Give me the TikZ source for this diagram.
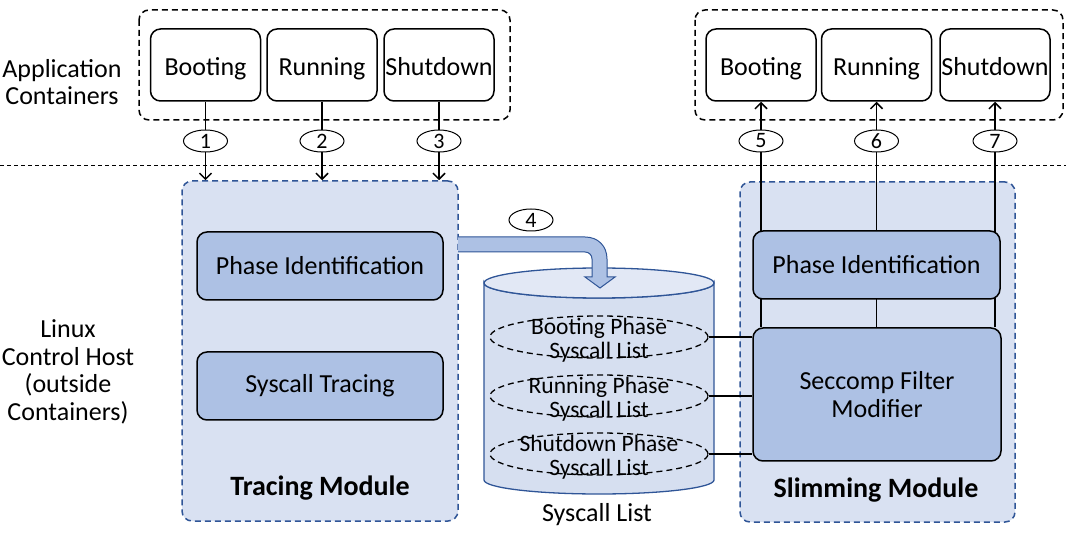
\documentclass[tikz,border=0pt]{standalone}
\usepackage{fontspec}
\setmainfont{Carlito}
\usetikzlibrary{arrows.meta,shapes.geometric}
\definecolor{modfill}{HTML}{D9E1F2}
\definecolor{modline}{HTML}{2F5597}
\definecolor{boxfill}{HTML}{ADC1E4}
\definecolor{cylfill}{HTML}{D6DFF0}
\definecolor{cyltop}{HTML}{E2E8F5}

\begin{document}
\begin{tikzpicture}[x=1pt, y=-1pt,
  appbox/.style={draw, rounded corners=10, line width=1.5, minimum width=110, minimum height=72, inner sep=1, text height=23, text depth=2, font=\fontsize{26}{31}\selectfont},
  module/.style={draw=modline, fill=modfill, dashed, dash pattern=on 6 off 4, rounded corners=10, line width=1.5},
  phasebox/.style={draw, fill=boxfill, rounded corners=10, line width=1.5, align=center, font=\fontsize{26}{28}\selectfont},
  numtag/.style={draw, ellipse, fill=white, line width=1, minimum width=44, minimum height=22, inner sep=0, font=\fontsize{22}{22}\selectfont},
  listring/.style={draw, ellipse, dashed, dash pattern=on 6 off 4, line width=1.3, minimum width=218, minimum height=42, inner sep=0},
  listtext/.style={align=center, yshift=-3, font=\fontsize{23.5}{23.5}\selectfont},
  flow/.style={line width=1.5, -{Straight Barb[length=6, width=12, line width=1.5]}},
  link/.style={line width=1.5},
  caption/.style={align=center, font=\fontsize{26}{27.5}\selectfont}]
  \useasboundingbox (0,0) rectangle (1066,534);

  % side labels
  \node[caption] (applabel) at (62,82) {Application\\Containers};
  \node[caption] (hostlabel) at (68,372) {Linux\\Control Host\\(outside\\Containers)};
  \draw[line width=0.8, dash pattern=on 4 off 3] (0,165) -- (1066,165);

  % application containers
  \draw[line width=1.5, dashed, dash pattern=on 6 off 4, rounded corners=10] (139,10) rectangle (510,120);
  \node[appbox] (bootL) at (205.5,65) {Booting};
  \node[appbox] (runL) at (322,65) {Running};
  \node[appbox] (shutL) at (439,65) {Shutdown};
  \draw[line width=1.5, dashed, dash pattern=on 6 off 4, rounded corners=10] (695,10) rectangle (1063,120);
  \node[appbox] (bootR) at (761,65) {Booting};
  \node[appbox] (runR) at (876.5,65) {Running};
  \node[appbox] (shutR) at (995,65) {Shutdown};

  % modules
  \node[module, minimum width=276, minimum height=340] (trace) at (320,351) {};
  \node[module, minimum width=275, minimum height=340] (slim) at (877.5,352) {};
  \node[font=\bfseries\fontsize{28}{28}\selectfont] (tracelabel) at (320,488) {Tracing Module};
  \node[font=\bfseries\fontsize{28}{28}\selectfont] (slimlabel) at (876,490) {Slimming Module};

  \node[phasebox, minimum width=246, minimum height=68] (phaseL) at (320,266) {Phase Identification};
  \node[phasebox, minimum width=246, minimum height=68] (tracing) at (320,386) {Syscall Tracing};
  \node[phasebox, minimum width=248, minimum height=133] (seccomp) at (877,394.5) {Seccomp Filter\\Modifier};

  % steps 1-3 and 5-7
  \foreach \ctr in {bootL, runL, shutL}
    \draw[flow] (\ctr.south) -- (\ctr.south |- trace.north);
  \foreach \ctr in {bootR, runR, shutR}
    \draw[flow] (\ctr.south |- seccomp.north) -- (\ctr.south);
  \node[phasebox, minimum width=247, minimum height=68] (phaseR) at (876.5,265) {Phase Identification};
  \node[numtag] (n1) at (205.5,141) {1};
  \node[numtag] (n2) at (322,141) {2};
  \node[numtag] (n3) at (439,141) {3};
  \node[numtag] (n5) at (761,141) {5};
  \node[numtag] (n6) at (876.5,141) {6};
  \node[numtag] (n7) at (995,141) {7};

  % syscall list store
  \filldraw[fill=cylfill, draw=modline, line width=1.3] (484,283) -- (484,480)
    arc[start angle=180, end angle=0, x radius=115, y radius=14] -- (714,283)
    arc[start angle=0, end angle=180, x radius=115, y radius=15] -- cycle;
  \filldraw[fill=cyltop, draw=modline, line width=1.3] (599,283) ellipse[x radius=115, y radius=15];
  \node[caption] (storelabel) at (597,515) {Syscall List};

  % step 4
  \filldraw[fill=boxfill, draw=modline, line width=1]
    (458,237) -- (585,237) .. controls (598,237) and (607,246) .. (607,259) -- (607,277)
    -- (615,277) -- (600,288) -- (585,277) -- (592,277) -- (592,259)
    .. controls (592,255) and (589,252) .. (585,252) -- (458,252);
  \node[numtag] (n4) at (531,220) {4};

  \node[listring] (bootlist) at (599,337) {};
  \node[listtext] at (bootlist) {Booting Phase\\Syscall List};
  \node[listring] (runlist) at (599,396) {};
  \node[listtext] at (runlist) {Running Phase\\Syscall List};
  \node[listring] (shutlist) at (599,454) {};
  \node[listtext] at (shutlist) {Shutdown Phase\\Syscall List};
  \foreach \lst in {bootlist, runlist, shutlist}
    \draw[link] (\lst.east) -- (\lst.east -| seccomp.west);
\end{tikzpicture}
\end{document}
